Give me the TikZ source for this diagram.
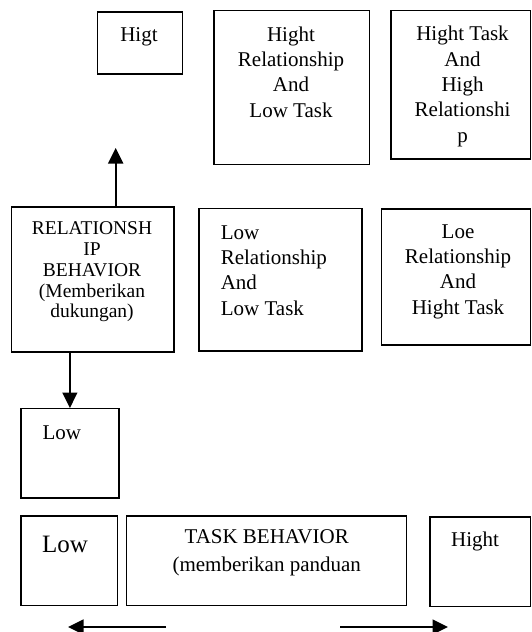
\documentclass[tikz,border=0pt]{standalone}
\usepackage{fontspec}
\setmainfont{Liberation Serif}
\usetikzlibrary{arrows.meta}
\begin{document}
\begin{tikzpicture}[x=1pt,y=-1pt,
  box/.style={draw,line width=1.4pt,inner sep=0pt},
  txt/.style={inner sep=0pt,align=center,font=\fontsize{21}{25.3}\selectfont},
  arr/.style={line width=1.6pt,-{Triangle[length=15.5pt,width=15pt]}}]
\useasboundingbox (0,0) rectangle (532,632);
% boxes
\node[box,minimum width=84.5pt,minimum height=62.1pt] (higt) at (139.95,42.95) {};
\node[box,minimum width=155.4pt,minimum height=154.1pt] (hrlt) at (291.5,87.55) {};
\node[box,minimum width=139.5pt,minimum height=148.3pt] (hthr) at (460.75,84.65) {};
\node[box,minimum width=162.8pt,minimum height=145pt] (rb) at (92.6,279.5) {};
\node[box,minimum width=163pt,minimum height=142.3pt] (lrlt) at (280.5,279.85) {};
\node[box,minimum width=148.8pt,minimum height=136pt] (lrht) at (456.1,277) {};
\node[box,minimum width=97.8pt,minimum height=89.3pt] (lowa) at (69.9,453.35) {};
\node[box,minimum width=96.7pt,minimum height=89.5pt] (lowb) at (69.35,560.75) {};
\node[box,minimum width=279.9pt,minimum height=89.5pt] (task) at (266.55,560.75) {};
\node[box,minimum width=100.5pt,minimum height=89.5pt] (hight) at (480.25,561.75) {};
% texts
\node[txt] (t1) at (139,37) {Higt};
\node[txt] (t2) at (291,72) {Hight\\Relationship\\And\\Low Task};
\node[txt] (t3) at (462.5,86.5) {Hight Task\\And\\High\\Relationshi\\p};
\node[txt,font=\fontsize{19.5}{20.8}\selectfont] (t4) at (92,272) {RELATIONSH\\IP\\BEHAVIOR\\(Memberikan\\dukungan)};
\node[txt,align=left,anchor=west] (t5) at (220.6,270.5) {Low\\Relationship\\And\\Low Task};
\node[txt] (t6) at (458,271.5) {Loe\\Relationship\\And\\Hight Task};
\node[txt,anchor=west] (t7) at (42.4,433) {Low};
\node[txt,anchor=west,font=\fontsize{25}{30}\selectfont] (t8) at (42,544) {Low};
\node[txt,font=\fontsize{21}{27.5}\selectfont] (t9) at (266.7,552.7) {TASK BEHAVIOR\\(memberikan panduan};
\node[txt,anchor=west] (t10) at (451,541) {Hight};
% arrows
\coordinate (uptip) at (115.7,148);
\draw[arr] (uptip |- rb.north) -- (uptip);
\draw[arr] (lowa.north |- rb.south) -- (lowa.north);
\coordinate (lfrom) at (166,627);
\coordinate (lto) at (68,627);
\coordinate (rfrom) at (340,627);
\coordinate (rto) at (448,627);
\draw[arr] (lfrom) -- (lto);
\draw[arr] (rfrom) -- (rto);
\end{tikzpicture}
\end{document}
